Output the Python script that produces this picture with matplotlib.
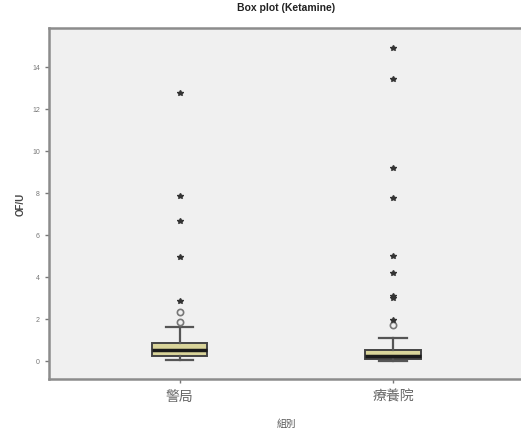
import numpy as np
import matplotlib
matplotlib.use("Agg")
import matplotlib.pyplot as plt

plt.rcParams['font.family'] = ['Liberation Sans', 'Noto Sans CJK TC', 'DejaVu Sans']

groups = ["警局", "療養院"]
whislo = [0.05, 0.0]
q1 = [0.25, 0.10]
med = [0.54, 0.24]
q3 = [0.84, 0.54]
whishi = [1.63, 1.08]
# circles (mild outliers) and stars (extreme values)
mild = [[1.84, 2.32], [1.71]]
extreme = [[2.86, 4.97, 6.65, 7.87, 12.77], [1.95, 3.0, 3.1, 4.2, 5.01, 7.75, 9.18, 13.41, 14.89]]

fig = plt.figure(figsize=(5.21, 4.31), dpi=100)
ax = fig.add_axes([49/521, 51/431, 474.5/521, 350.7/431])
ax.set_facecolor("#f0f0f0")

pos = [1, 2]
stats = []
for i in range(len(groups)):
    stats.append(dict(whislo=whislo[i], q1=q1[i], med=med[i], q3=q3[i],
                      whishi=whishi[i], fliers=[]))
ax.bxp(stats, positions=pos, widths=0.262, patch_artist=True,
       boxprops=dict(facecolor="#d9d49a", edgecolor="#444444", linewidth=1.4),
       medianprops=dict(color="#1a1a1a", linewidth=2.5),
       whiskerprops=dict(color="#555555", linewidth=1.6),
       capprops=dict(color="#555555", linewidth=1.6),
       capwidths=0.13)

for i, p in enumerate(pos):
    ax.plot([p]*len(mild[i]), mild[i], 'o', mfc='none', mec="#777777", ms=4.5, mew=1.2)
    ax.plot([p]*len(extreme[i]), extreme[i], '*', color="#333333", ms=4)

ax.set_xlim(1 - 130.5/213.5, 2 + 130.5/213.5)
ax.set_ylim(-0.86, 15.84)
ax.set_yticks(np.arange(0, 15, 2))
ax.set_xticks(pos)
ax.set_xticklabels(groups, fontsize=10, color="#666666")
ax.tick_params(axis='y', labelsize=5, colors="#777777", length=3, width=1)
ax.tick_params(axis='x', length=3, width=1, colors="#777777", pad=4)
for lbl in ax.get_xticklabels():
    lbl.set_color("#666666")
for s in ax.spines.values():
    s.set_color("#8c8c8c")
    s.set_linewidth(1.8)

ax.set_title("Box plot (Ketamine)", fontsize=7.5, fontweight="bold", color="#222222", pad=13)
ax.set_ylabel("OF/U", fontsize=7, fontweight="bold", color="#444444", labelpad=5)
ax.set_xlabel("組別", fontsize=7, color="#555555", labelpad=11)

fig.savefig("out.png", dpi=100)
